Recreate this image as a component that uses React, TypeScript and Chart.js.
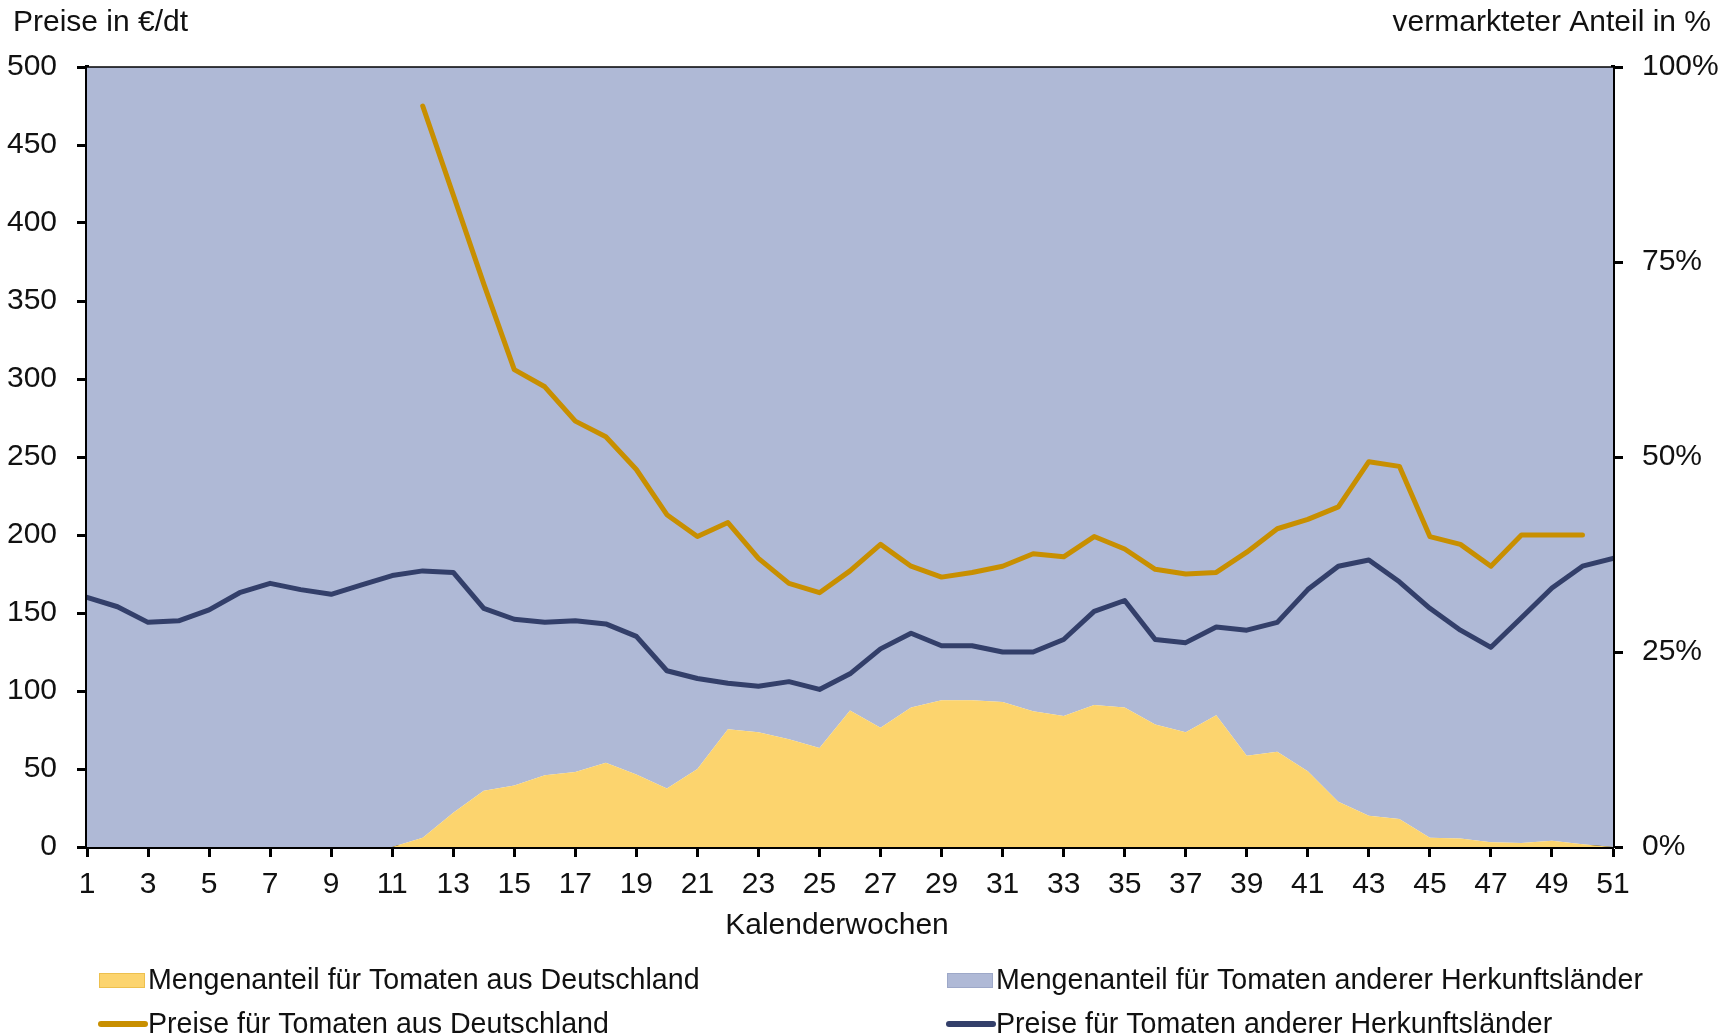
import React, { useEffect, useRef } from 'react';
import { Chart, registerables } from 'chart.js';

Chart.register(...registerables);

const weeks = [
  1, 2, 3, 4, 5, 6, 7, 8, 9, 10, 11, 12, 13, 14, 15, 16, 17, 18, 19, 20, 21, 22, 23, 24, 25,
  26, 27, 28, 29, 30, 31, 32, 33, 34, 35, 36, 37, 38, 39, 40, 41, 42, 43, 44, 45, 46, 47, 48, 49, 50, 51,
];

// Mengenanteil Deutschland in %
const germanShare = [
  0, 0, 0, 0, 0, 0, 0, 0, 0, 0, 0, 1.2, 4.4, 7.2, 7.9, 9.2, 9.6, 10.8, 9.3, 7.5, 10.0, 15.1, 14.7, 13.8, 12.7,
  17.5, 15.3, 17.9, 18.8, 18.8, 18.6, 17.4, 16.8, 18.2, 17.9, 15.7, 14.7, 16.9, 11.7, 12.2, 9.7, 5.8, 4.0, 3.6, 1.2,
  1.1, 0.6, 0.5, 0.8, 0.35, 0,
];

// Mengenanteil andere Herkunftsländer (Rest zu 100 %)
const otherShare = germanShare.map((v) => 100 - v);

// Preise in €/dt
const germanPrice: (number | null)[] = [
  null, null, null, null, null, null, null, null, null, null, null,
  475, 418, 361, 306, 295, 273, 263, 242, 213, 199, 208, 185, 169, 163,
  177, 194, 180, 173, 176, 180, 188, 186, 199, 191, 178, 175, 176, 189, 204,
  210, 218, 247, 244, 199, 194, 180, 200, 200, 200, null,
];

const otherPrice = [
  160, 154, 144, 145, 152, 163, 169, 165, 162, 168, 174, 177, 176, 153, 146, 144, 145, 143, 135, 113,
  108, 105, 103, 106, 101, 111, 127, 137, 129, 129, 125, 125, 133, 151, 158, 133, 131, 141, 139, 144,
  165, 180, 184, 170, 153, 139, 128, 147, 166, 180, 185,
];

const seriesLabels = [
  'Mengenanteil für Tomaten aus Deutschland',
  'Mengenanteil für Tomaten anderer Herkunftsländer',
  'Preise für Tomaten aus Deutschland',
  'Preise für Tomaten anderer Herkunftsländer',
];

const leftTitle = 'Preise in €/dt';
const rightTitle = 'vermarkteter Anteil in %';
const xTitle = 'Kalenderwochen';

const COLORS = {
  yellow: '#FCD46E',
  yellowEdge: '#EDC04E',
  blue: '#AFB9D6',
  blueEdge: '#9DA8C8',
  gold: '#C88F00',
  navy: '#333F6A',
};

const FONT_FAMILY = '"Liberation Sans", Arial, sans-serif';
const FS = 30;
const LEGEND_FS = 28.6;

const toXY = (arr: (number | null)[]) => arr.map((y, i) => ({ x: weeks[i], y }));

const overlayPlugin = {
  id: 'overlay',
  afterDraw(chart: any) {
    const ctx = chart.ctx as CanvasRenderingContext2D;
    const a = chart.chartArea;
    ctx.save();
    // thin top border of plot area
    ctx.strokeStyle = '#000';
    ctx.lineWidth = 1.5;
    ctx.beginPath();
    ctx.moveTo(a.left, a.top);
    ctx.lineTo(a.right, a.top);
    ctx.stroke();

    ctx.fillStyle = '#111';
    ctx.font = `${FS}px ${FONT_FAMILY}`;
    ctx.textBaseline = 'middle';
    ctx.textAlign = 'left';
    ctx.fillText(leftTitle, 13, 23);
    ctx.textAlign = 'right';
    ctx.fillText(rightTitle, 1711, 23);
    ctx.textAlign = 'center';
    ctx.fillText(xTitle, 837, 926);

    // legend
    ctx.font = `${LEGEND_FS}px ${FONT_FAMILY}`;
    const cols = [99, 947];
    const rows = [980, 1024];
    const items = [
      { kind: 'box', color: COLORS.yellow, edge: COLORS.yellowEdge, col: 0, row: 0 },
      { kind: 'box', color: COLORS.blue, edge: COLORS.blueEdge, col: 1, row: 0 },
      { kind: 'line', color: COLORS.gold, edge: '', col: 0, row: 1 },
      { kind: 'line', color: COLORS.navy, edge: '', col: 1, row: 1 },
    ];
    items.forEach((it, i) => {
      const x = cols[it.col];
      const y = rows[it.row];
      if (it.kind === 'box') {
        ctx.fillStyle = it.color;
        ctx.fillRect(x, y - 7, 46, 15);
        ctx.strokeStyle = it.edge;
        ctx.lineWidth = 1;
        ctx.strokeRect(x + 0.5, y - 6.5, 45, 14);
      } else {
        ctx.strokeStyle = it.color;
        ctx.lineWidth = 6;
        ctx.lineCap = 'round';
        ctx.beginPath();
        ctx.moveTo(x + 2, y);
        ctx.lineTo(x + 46, y);
        ctx.stroke();
      }
      ctx.fillStyle = '#111';
      ctx.textAlign = 'left';
      ctx.fillText(seriesLabels[i], x + 49, y + 1);
    });
    ctx.restore();
  },
};

export default function App() {
  const canvasRef = useRef<HTMLCanvasElement | null>(null);

  useEffect(() => {
    if (!canvasRef.current) return;
    const tickFont = { family: FONT_FAMILY, size: FS };
    const gridCfg = {
      drawOnChartArea: false,
      drawTicks: true,
      tickLength: 10,
      tickWidth: 3,
      tickColor: '#000',
      color: '#000',
    };
    const chart = new Chart(canvasRef.current, {
      type: 'line',
      data: {
        datasets: [
          {
            label: seriesLabels[0],
            data: toXY(germanShare),
            yAxisID: 'y2',
            backgroundColor: COLORS.yellow,
            borderColor: COLORS.yellow,
            borderWidth: 0,
            pointRadius: 0,
            fill: 'origin',
            order: 2,
            stack: 's',
          },
          {
            label: seriesLabels[1],
            data: toXY(otherShare),
            yAxisID: 'y2',
            backgroundColor: COLORS.blue,
            borderColor: COLORS.blue,
            borderWidth: 0,
            pointRadius: 0,
            fill: '-1',
            order: 3,
            stack: 's',
          },
          {
            label: seriesLabels[2],
            data: toXY(germanPrice),
            yAxisID: 'y',
            borderColor: COLORS.gold,
            backgroundColor: COLORS.gold,
            borderWidth: 5,
            borderCapStyle: 'round',
            borderJoinStyle: 'round',
            pointRadius: 0,
            fill: false,
            spanGaps: false,
            order: 1,
          },
          {
            label: seriesLabels[3],
            data: toXY(otherPrice),
            yAxisID: 'y',
            borderColor: COLORS.navy,
            backgroundColor: COLORS.navy,
            borderWidth: 5,
            borderCapStyle: 'round',
            borderJoinStyle: 'round',
            pointRadius: 0,
            fill: false,
            order: 0,
          },
        ] as any,
      },
      options: {
        responsive: false,
        animation: false,
        events: [],
        layout: { padding: { left: 0, right: 0, top: 67, bottom: 109 } },
        plugins: {
          legend: { display: false },
          tooltip: { enabled: false },
          title: { display: false },
        },
        scales: {
          x: {
            type: 'linear',
            min: 1,
            max: 51,
            offset: false,
            afterFit: (s: any) => {
              s.height = 80;
            },
            ticks: {
              stepSize: 2,
              color: '#111',
              font: tickFont,
              padding: 10,
              maxRotation: 0,
              autoSkip: false,
            },
            grid: gridCfg,
            border: { display: true, color: '#000', width: 4 },
          },
          y: {
            type: 'linear',
            position: 'left',
            min: 0,
            max: 500,
            afterFit: (s: any) => {
              s.width = 87;
            },
            ticks: { stepSize: 50, color: '#111', font: tickFont, padding: 20 },
            grid: gridCfg,
            border: { display: true, color: '#000', width: 4 },
          },
          y2: {
            type: 'linear',
            position: 'right',
            min: 0,
            max: 100,
            stacked: true,
            afterFit: (s: any) => {
              s.width = 110;
            },
            ticks: {
              stepSize: 25,
              color: '#111',
              font: tickFont,
              padding: 19,
              callback: (v: any) => `${v}%`,
            },
            grid: gridCfg,
            border: { display: true, color: '#000', width: 4 },
          },
        },
      } as any,
      plugins: [overlayPlugin],
    });
    return () => chart.destroy();
  }, []);

  return (
    <div style={{ position: 'absolute', left: 0, top: 0, width: 1723, height: 1036, background: '#fff' }}>
      <canvas ref={canvasRef} width={1723} height={1036} />
    </div>
  );
}
